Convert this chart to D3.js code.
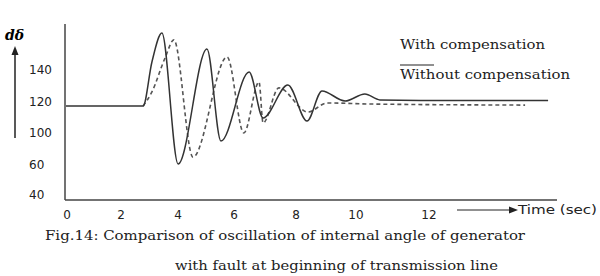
<!DOCTYPE HTML>
<html lang="en">
	<head>
		<title>Fig 14</title>
		<meta charset="utf-8">
		<style type="text/css">
			body { background-color: #ffffff; margin: 0px; overflow: hidden; }
			.tick { font-family: "DejaVu Sans"; font-size: 12px; fill: #222; }
			.serif { font-family: "DejaVu Serif"; font-size: 13px; fill: #222; }
		</style>
	</head>
	<body>
		<div id="svg"></div>
		<script src="https://cdn.jsdelivr.net/npm/d3@7"></script>
		<script type="text/javascript">

			// tick labels (the axis in the figure is not evenly spaced)
			var xTicks = [0, 2, 4, 6, 8, 10, 12];
			var xTickPos = [66, 120, 177, 233, 295, 355, 428];
			var yTicks = [40, 60, 100, 120, 140];
			var yTickPos = [195, 165, 133, 102, 70];

			// with compensation (solid)
			var timeWith = [0, 2.81, 3.12, 3.47, 4.04, 5.07, 5.57, 6.52, 6.97, 7.77, 8.4, 8.9, 9.67, 10.27, 10.68, 11.8, 15.29];
			var deltaWith = [117.4, 117.4, 145, 163.1, 61.3, 153.1, 90, 138.8, 109.7, 130.6, 107.7, 126.9, 120.6, 125, 121.3, 121, 121];

			// without compensation (dashed)
			var timeWithout = [2.81, 3.12, 3.58, 3.89, 4.57, 5.79, 6.35, 6.84, 6.97, 7.48, 8.43, 9.07, 10.41, 14.66];
			var deltaWithout = [117.4, 126.3, 147.5, 158.8, 70, 148.1, 100, 132.5, 106.5, 128.8, 113.5, 119.4, 118.7, 118];

			init();

			function init() {

				var svg = d3.select('#svg').append("svg")
						.attr("width", 600)
						.attr("height", 276);

				var x = d3.scaleLinear().domain(xTicks).range(xTickPos);
				var y = d3.scaleLinear().domain(yTicks).range(yTickPos);

				// axes lines
				svg.append("line")
					.attr("x1", 65).attr("x2", 65)
					.attr("y1", 24).attr("y2", 200)
					.style("stroke", "#444").style("stroke-width", 1.5);
				svg.append("line")
					.attr("x1", 65).attr("x2", 557)
					.attr("y1", 200).attr("y2", 200)
					.style("stroke", "#444").style("stroke-width", 1.5);

				svg.selectAll(".ylab").data(yTicks).enter().append("text")
					.attr("class", "tick")
					.attr("x", 29)
					.attr("y", function(d){ return y(d); })
					.attr("dy", "0.35em")
					.text(function(d){ return d; });

				svg.selectAll(".xlab").data(xTicks).enter().append("text")
					.attr("class", "tick")
					.attr("x", function(d){ return x(d) + 1; })
					.attr("y", 215)
					.attr("dy", "0.35em")
					.attr("text-anchor", "middle")
					.text(function(d){ return d; });

				// y arrow + label
				svg.append("line")
					.attr("x1", 15).attr("x2", 15)
					.attr("y1", 52).attr("y2", 138)
					.style("stroke", "#222").style("stroke-width", 1.5);
				svg.append("path")
					.attr("d", "M15,46 L11.5,55 L18.5,55 Z")
					.style("fill", "#222");
				svg.append("text")
					.attr("x", 5).attr("y", 40)
					.style("font-family", "DejaVu Serif")
					.style("font-style", "italic")
					.style("font-weight", "bold")
					.style("font-size", "14px")
					.text("dδ");

				// x arrow + label
				svg.append("line")
					.attr("x1", 457).attr("x2", 510)
					.attr("y1", 210).attr("y2", 210)
					.style("stroke", "#222").style("stroke-width", 1);
				svg.append("path")
					.attr("d", "M518,210 L509,206.5 L509,213.5 Z")
					.style("fill", "#222");
				svg.append("text")
					.attr("class", "tick")
					.attr("x", 518).attr("y", 210)
					.attr("dy", "0.35em")
					.attr("textLength", 79)
					.attr("lengthAdjust", "spacingAndGlyphs")
					.text("Time (sec)");

				var line = d3.line()
					.x(function(d){ return x(d[0]); })
					.y(function(d){ return y(d[1]); })
					.curve(d3.curveMonotoneX);

				var solid = timeWith.map(function(t, i){ return [t, deltaWith[i]]; });
				var dashed = timeWithout.map(function(t, i){ return [t, deltaWithout[i]]; });

				svg.append("path")
					.attr("d", line(dashed))
					.style("fill", "none")
					.style("stroke", "#555")
					.style("stroke-width", 1.6)
					.style("stroke-dasharray", "4,3");

				svg.append("path")
					.attr("d", line(solid))
					.style("fill", "none")
					.style("stroke", "#333")
					.style("stroke-width", 1.5);

				// legend
				svg.append("text")
					.attr("class", "serif")
					.attr("x", 400).attr("y", 49)
					.attr("textLength", 145)
					.attr("lengthAdjust", "spacingAndGlyphs")
					.text("With compensation");
				svg.append("line")
					.attr("x1", 400).attr("x2", 434)
					.attr("y1", 65).attr("y2", 65)
					.style("stroke", "#222").style("stroke-width", 1.2);
				svg.append("text")
					.attr("class", "serif")
					.attr("x", 400).attr("y", 79)
					.attr("textLength", 170)
					.attr("lengthAdjust", "spacingAndGlyphs")
					.text("Without compensation");

				// caption
				svg.append("text")
					.attr("class", "serif")
					.attr("x", 45).attr("y", 240)
					.attr("textLength", 480)
					.attr("lengthAdjust", "spacingAndGlyphs")
					.text("Fig.14: Comparison of oscillation of internal angle of generator");
				svg.append("text")
					.attr("class", "serif")
					.attr("x", 175).attr("y", 270)
					.attr("textLength", 323)
					.attr("lengthAdjust", "spacingAndGlyphs")
					.text("with fault at beginning of transmission line");
			}

		</script>
	</body>
</html>
